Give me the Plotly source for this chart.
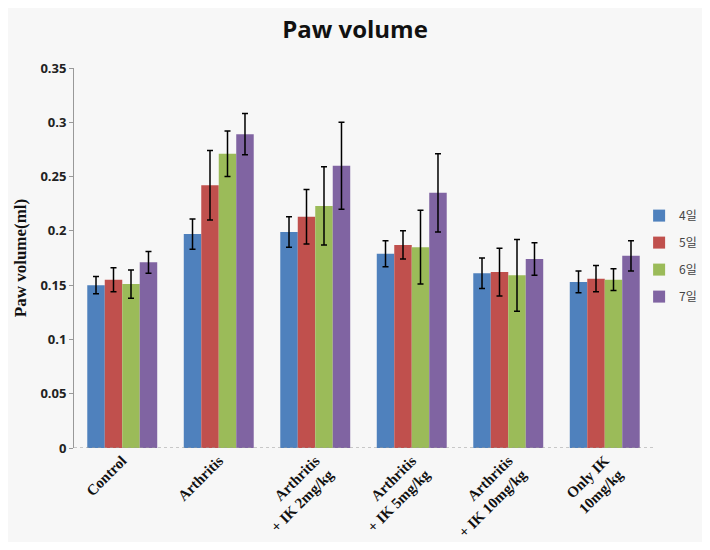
import plotly.graph_objects as go

categories = ["Control", "Arthritis", "Arthritis<br>+ IK 2mg/kg", "Arthritis<br>+ IK 5mg/kg",
              "Arthritis<br>+ IK 10mg/kg", "Only IK<br>10mg/kg"]
series_names = ["4일", "5일", "6일", "7일"]
day4 = [0.150, 0.197, 0.199, 0.179, 0.161, 0.153]
day5 = [0.155, 0.242, 0.213, 0.187, 0.162, 0.156]
day6 = [0.151, 0.271, 0.223, 0.185, 0.159, 0.155]
day7 = [0.171, 0.289, 0.260, 0.235, 0.174, 0.177]
err4 = [0.008, 0.014, 0.014, 0.012, 0.014, 0.010]
err5 = [0.011, 0.032, 0.025, 0.013, 0.022, 0.012]
err6 = [0.013, 0.021, 0.036, 0.034, 0.033, 0.010]
err7 = [0.010, 0.019, 0.040, 0.036, 0.015, 0.014]
colors = ["#4f81bd", "#c0504d", "#9bbb59", "#8064a2"]

fig = go.Figure()
for name, vals, errs, col in zip(series_names, [day4, day5, day6, day7],
                                 [err4, err5, err6, err7], colors):
    fig.add_trace(go.Bar(
        x=categories, y=vals, name=name, legendgroup=name,
        marker=dict(color=col, line=dict(width=0)),
        error_y=dict(type="data", array=errs, color="black", thickness=1.5, width=3),
    ))

# page body has an 8px default margin: size the figure to fit inside it
fig.update_layout(
    width=694, height=534,
    barmode="group", bargap=0.275, bargroupgap=0,
    paper_bgcolor="#f7f7f7", plot_bgcolor="#f7f7f7",
    margin=dict(l=66, r=49, t=60, b=94, autoexpand=False),
    title=dict(text="<b>Paw volume</b>", x=0.5, xanchor="center", y=0.959, yanchor="middle",
               font=dict(family="Open Sans, sans-serif", size=24, color="#111")),
    legend=dict(x=0.976, xanchor="left", y=0.505, yanchor="middle",
                traceorder="grouped", tracegroupgap=8,
                font=dict(family="Noto Sans CJK KR, sans-serif", size=12, color="#444"),
                bgcolor="rgba(0,0,0,0)", itemwidth=30),
    yaxis=dict(range=[0, 0.35], dtick=0.05, showgrid=False, zeroline=False,
               showline=True, linecolor="#999", linewidth=1, ticks="outside", ticklen=4,
               tickcolor="#999", tickprefix="<b>", ticksuffix="</b>",
               tickfont=dict(family="Open Sans, sans-serif", size=13, color="#222"),
               title=dict(text="<b>Paw volume(ml)</b>", standoff=9,
                          font=dict(family="Liberation Serif, Times New Roman, serif", size=17, color="#111"))),
    xaxis=dict(showgrid=False, showline=False, tickangle=-45, ticks="",
               tickfont=dict(family="Liberation Serif, Times New Roman, serif", size=15, color="#111")),
    shapes=[dict(type="line", xref="paper", yref="y", x0=0, x1=1, y0=0, y1=0,
                 line=dict(color="#999", width=1.2, dash="dot"))],
)
fig.update_xaxes(tickvals=categories,
                 ticktext=["<b>" + c.replace("<br>", "</b><br><b>") + "</b>" for c in categories])

fig.write_html("out.html")
